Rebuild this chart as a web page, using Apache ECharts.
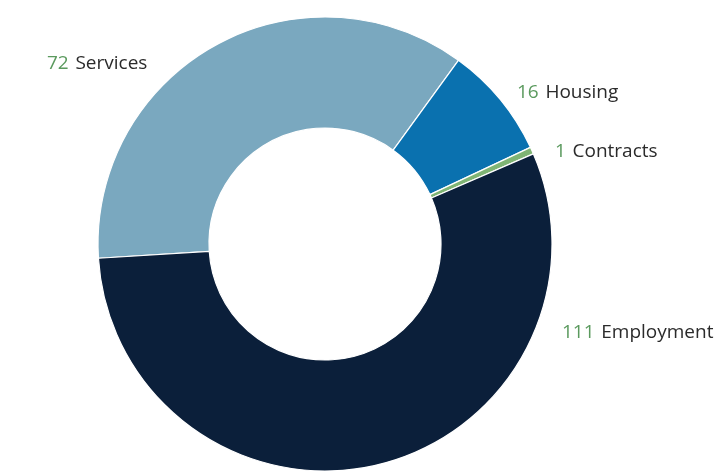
<!DOCTYPE html>
<html>
<head>
<meta charset="utf-8">
<script src="https://cdn.jsdelivr.net/npm/echarts@6/dist/echarts.min.js"></script>
<style>
  html, body { margin: 0; padding: 0; background: #ffffff; }
  #chart { width: 720px; height: 472px; }
</style>
</head>
<body>
<div id="chart"></div>
<script>
// Case counts by category
var categories = ['Services', 'Housing', 'Contracts', 'Employment'];
var counts = [72, 16, 1, 111];
var sliceColors = ['#7aa8bf', '#0a71af', '#7fb474', '#0b1f3a'];

// Where each label sits (left edge, vertical middle)
var labelSpots = [
  [47, 64],
  [517, 93],
  [555, 152],
  [562, 333]
];

var chart = echarts.init(document.getElementById('chart'), null, { renderer: 'canvas' });

chart.setOption({
  backgroundColor: '#ffffff',
  animation: false,
  series: [{
    type: 'pie',
    center: [325, 244],
    radius: [116, 227],
    startAngle: 183.6,
    clockwise: true,
    avoidLabelOverlap: false,
    itemStyle: { borderColor: '#ffffff', borderWidth: 1.2 },
    labelLine: { show: false },
    label: {
      show: true,
      position: 'outside',
      formatter: function (p) { return '{v|' + p.value + '}  {n|' + p.name + '}'; },
      rich: {
        v: { color: '#5b9a5e', fontSize: 19, fontFamily: 'Open Sans' },
        n: { color: '#2b2b2b', fontSize: 19, fontFamily: 'Open Sans' }
      }
    },
    labelLayout: function (params) {
      var s = labelSpots[params.dataIndex];
      return { x: s[0], y: s[1], align: 'left', verticalAlign: 'middle' };
    },
    data: categories.map(function (c, i) {
      return { name: c, value: counts[i], itemStyle: { color: sliceColors[i] } };
    })
  }]
});
</script>
</body>
</html>
